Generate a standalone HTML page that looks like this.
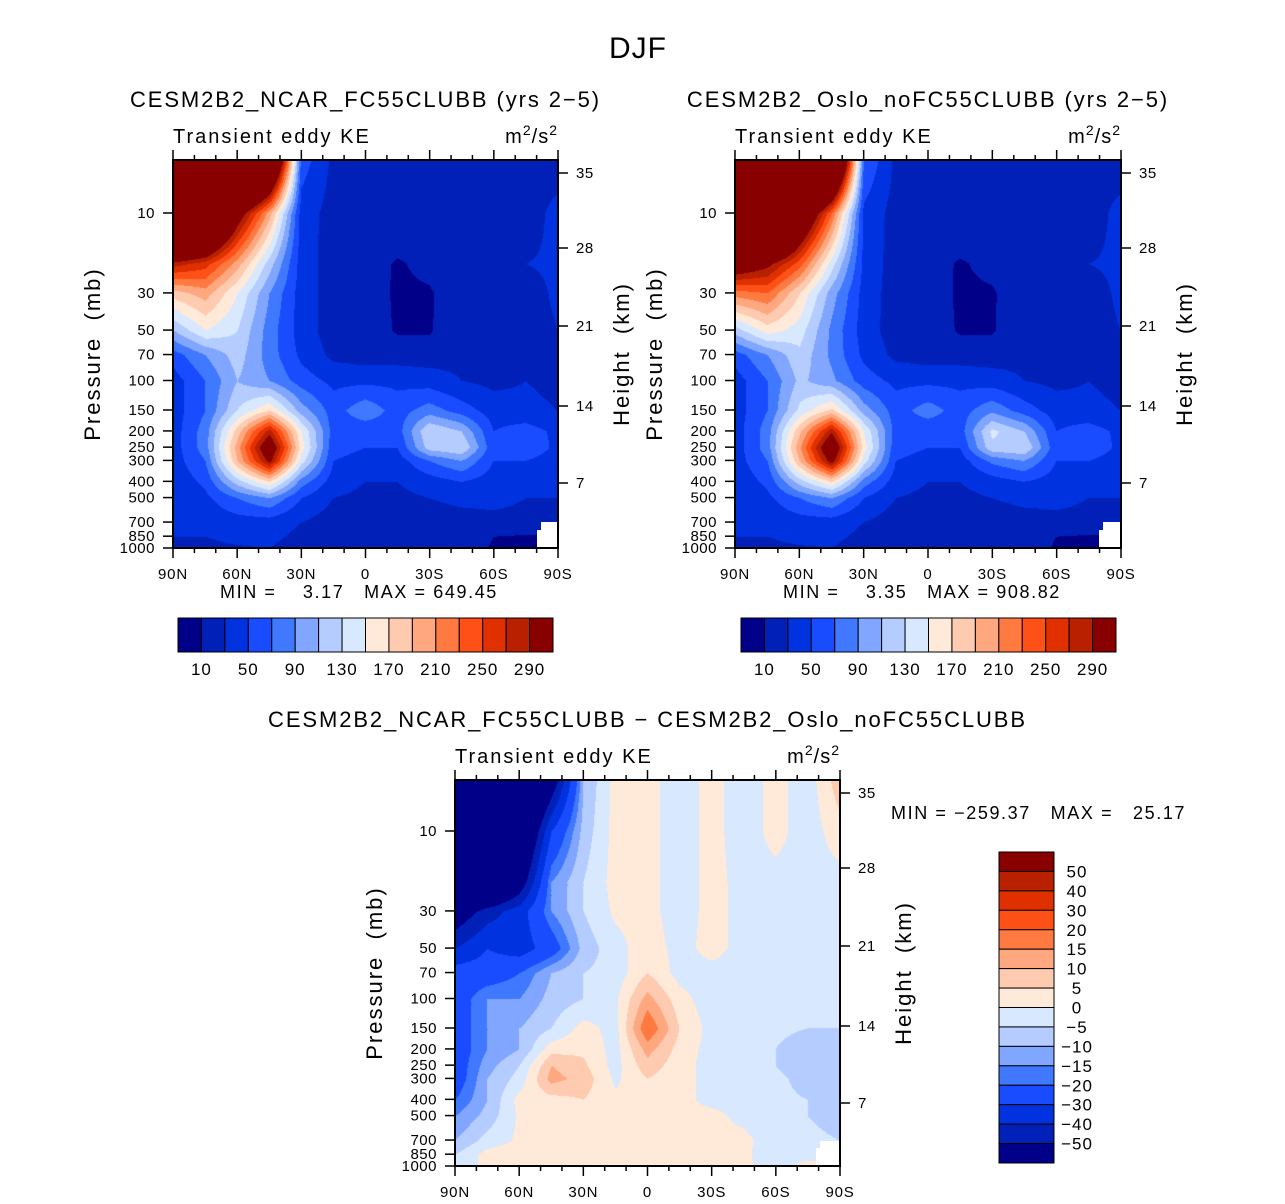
<!DOCTYPE html>
<html><head><meta charset="utf-8"><style>
body{margin:0;background:#fff;width:1285px;height:1204px;position:relative;overflow:hidden;font-family:"Liberation Sans",sans-serif}
canvas{position:absolute}
svg{position:absolute;left:0;top:0}
text{font-family:"Liberation Sans",sans-serif;fill:#000;white-space:pre}
</style></head><body>
<canvas id="c1" width="385" height="388" style="left:173px;top:160px"></canvas>
<canvas id="c2" width="386" height="388" style="left:735px;top:160px"></canvas>
<canvas id="c3" width="385" height="386" style="left:455px;top:780px"></canvas>
<svg id="ov" width="1285" height="1204"></svg>
<script>
const lats=[90,75,60,45,30,15,0,-15,-30,-45,-60,-75,-90];
const pLevels=[5,10,20,30,50,70,100,150,200,250,300,400,500,700,850,1000];
const keLevels=[10,30,50,70,90,110,130,150,170,190,210,230,250,270,290];
const diffLevels=[-50,-40,-30,-20,-15,-10,-5,0,5,10,15,20,30,40,50];
const keTickLabels=["10","50","90","130","170","210","250","290"];
const diffTickLabels=["50","40","30","20","15","10","5","0","\u22125","\u221210","\u221215","\u221220","\u221230","\u221240","\u221250"];
const pressureTicks=[10,30,50,70,100,150,200,250,300,400,500,700,850,1000];
const latTicks=["90N","60N","30N","0","30S","60S","90S"];
const colors=["#000088","#0020b8","#0032e0","#1a4cff","#4078ff","#80a6ff","#b4ccff","#d8e8ff","#ffeada","#ffcbb0","#ffa880","#ff7a40","#ff5018","#e03000","#b82000","#880000"];
const keNcar=[
[600,600,600,450,60,25,22,27,22,28,25,25,22],
[600,500,320,200,40,22,24,26,18,20,28,22,35],
[280,260,200,120,40,20,18,8,15,25,20,30,32],
[180,200,150,90,40,20,20,7,8,22,28,25,32],
[110,150,130,80,40,20,20,8,8,25,28,25,30],
[60,90,120,80,45,25,20,20,20,25,22,25,25],
[40,70,110,90,60,45,45,45,40,30,25,30,25],
[40,70,130,170,100,60,85,60,80,60,40,35,30],
[40,80,180,280,150,60,55,60,130,110,50,60,45],
[40,80,200,330,160,55,50,50,120,130,55,65,45],
[40,70,190,300,140,50,45,40,70,90,50,50,40],
[35,55,120,170,80,40,30,30,40,50,40,35,32],
[30,45,70,90,50,30,25,25,30,35,35,30,30],
[30,35,40,40,30,20,20,20,20,22,25,25,25],
[30,30,35,35,25,18,15,15,18,20,10,8,8],
[30,25,28,30,20,15,10,15,20,20,8,5,5]];
const keOslo=[
[700,700,700,500,70,25,22,27,22,28,25,25,22],
[700,600,380,230,45,22,24,26,18,20,28,22,35],
[330,300,240,140,45,20,18,8,15,25,20,30,32],
[220,230,170,100,42,20,20,7,8,22,28,25,32],
[120,160,140,85,40,20,20,8,8,25,28,25,30],
[60,90,125,85,45,25,20,20,20,25,22,25,25],
[40,70,115,95,60,45,45,45,40,30,25,30,25],
[40,70,135,175,100,60,80,60,85,60,40,35,30],
[40,80,185,285,150,60,55,60,135,110,50,60,45],
[40,80,205,335,160,55,50,50,125,130,55,65,45],
[40,70,190,305,140,50,45,40,75,90,50,50,40],
[35,55,120,170,80,40,30,30,40,50,40,35,32],
[30,45,70,90,50,30,25,25,30,35,35,30,30],
[30,35,40,40,30,20,20,20,20,22,25,25,25],
[30,30,35,35,25,18,15,15,18,20,10,8,8],
[30,25,28,30,20,15,10,15,20,20,8,5,5]];
const keDiff=[
[-100,-100,-100,-60,-10,2,2,-3,2,-3,2,-3,8],
[-100,-100,-80,-30,-8,2,2,-3,2,-3,2,-3,3],
[-100,-90,-60,-15,-5,2,2,-3,2,-2,-2,-2,-2],
[-60,-45,-35,-15,-5,1,2,-3,2,-2,-3,-3,-2],
[-40,-30,-35,-25,-8,-2,3,-2,2,-2,-3,-3,-2],
[-25,-25,-20,-10,-5,-3,5,-2,-2,-2,-2,-2,-3],
[-25,-15,-15,-8,-5,-1,12,2,-3,-3,-3,-3,-3],
[-25,-15,-10,-5,2,-2,20,5,-2,-3,-3,-5,-5],
[-25,-15,-10,3,4,-2,12,3,-2,-3,-5,-10,-8],
[-25,-12,-5,10,6,-2,8,2,-2,-3,-5,-10,-8],
[-25,-10,-3,12,8,-1,5,1,-1,-3,-3,-8,-8],
[-20,-10,2,3,5,1,2,1,-1,-1,-3,-5,-10],
[-15,-8,1,3,3,1,2,1,1,-1,-3,-5,-8],
[-10,-3,1,2,2,1,1,1,1,1,-2,-3,-5],
[-5,2,3,2,2,2,2,2,1,1,-3,-2,-2],
[-5,2,2,2,2,2,2,2,1,1,-2,2,2]];

const logP=pLevels.map(p=>Math.log10(p));
const PXDEC=167.5;
function yOfP(p,bottom){return bottom-(3-Math.log10(p))*PXDEC;}
function interp(grid,fi,lp){
  let i=0; while(i<logP.length-2 && lp>logP[i+1]) i++;
  let t=(lp-logP[i])/(logP[i+1]-logP[i]); t=Math.max(0,Math.min(1,t));
  let j=Math.max(0,Math.min(lats.length-2,Math.floor(fi))); let s=fi-j; s=Math.max(0,Math.min(1,s));
  const a=grid[i][j],b=grid[i][j+1],c=grid[i+1][j],d=grid[i+1][j+1];
  return (a*(1-s)+b*s)*(1-t)+(c*(1-s)+d*s)*t;
}
function hexRgb(h){return [parseInt(h.substr(1,2),16),parseInt(h.substr(3,2),16),parseInt(h.substr(5,2),16)];}
const rgb=colors.map(hexRgb);
function render(id,grid,levels){
  const cv=document.getElementById(id),ctx=cv.getContext('2d');
  const W=cv.width,H=cv.height,img=ctx.createImageData(W,H);
  for(let y=0;y<H;y++){
    const lp=3-(H-y)/PXDEC;
    for(let x=0;x<W;x++){
      const lat=90-180*x/(W-1); const fi=(90-lat)/15;
      const v=interp(grid,fi,lp);
      let k=0; while(k<levels.length && v>=levels[k]) k++;
      const c=rgb[k],o=(y*W+x)*4;
      img.data[o]=c[0];img.data[o+1]=c[1];img.data[o+2]=c[2];img.data[o+3]=255;
    }
  }
  ctx.putImageData(img,0,0);
}
render('c1',keNcar,keLevels);
render('c2',keOslo,keLevels);
render('c3',keDiff,diffLevels);

const NS="http://www.w3.org/2000/svg";
const svg=document.getElementById('ov');
function el(tag,attrs,txt){const e=document.createElementNS(NS,tag);for(const k in attrs)e.setAttribute(k,attrs[k]);if(txt!==undefined)e.textContent=txt;svg.appendChild(e);return e;}
function txt(x,y,s,size,anchor,name,rot,ls){
  const e=el('text',{x:x,y:y,'font-size':size,'text-anchor':anchor||'middle','letter-spacing':ls||0},s);
  if(rot) e.setAttribute('transform','rotate(-90 '+x+' '+y+')');
  
  
  return e;
}
function line(x1,y1,x2,y2,w){const e=el('line',{x1:x1,y1:y1,x2:x2,y2:y2,stroke:'#000','stroke-width':w||1.5});return e;}

const heightTicks=[35,28,21,14,7];
const heightOffsets=[13,88,166,246,323];
function panel(L,T,W,H,title,tname,mm,mmX,mmY){
  const R=L+W,B=T+H;
  txt(L+W/2,T-53,title,22,'middle',tname,false,1.9);
  txt(L,T-17,'Transient eddy KE',20,'start','field-label',false,2);
  const u=txt(R,T-17,'',20,'end','units-label',false,1);
  u.innerHTML='m<tspan font-size="14" dy="-8">2</tspan><tspan dy="8">/s</tspan><tspan font-size="14" dy="-8">2</tspan>';
  const f=el('rect',{x:L,y:T,width:W,height:H,fill:'none',stroke:'#000','stroke-width':2});
  
  for(let d=0;d<=18;d++){
    const x=L+W*d/18, major=d%3===0;
    line(x,T,x,T-(major?10:5));
    line(x,B,x,B+(major?10:5));
    if(major) txt(x,B+31,latTicks[d/3],15,'middle','lat-tick-label',false,0.8);
  }
  pressureTicks.forEach(p=>{const y=yOfP(p,B);line(L,y,L-10,y);txt(L-18,y+5,String(p),15,'end','pressure-tick-label',false,0.5);});
  heightTicks.forEach((h,i)=>{const y=T+heightOffsets[i];line(R,y,R+10,y);txt(R+18,y+5,String(h),15,'start','height-tick-label',false,0.5);});
  txt(L-73,T+H*0.5,'Pressure  (mb)',22,'middle','pressure-axis-title',true,2);
  txt(R+71,T+H*0.5,'Height  (km)',22,'middle','height-axis-title',true,2);
  txt(mmX,mmY,mm,18,'start','min-max-label',false,1.6);
}
txt(638,58,'DJF',30,'middle','figure-title',false,1);
panel(173,160,385,388,'CESM2B2_NCAR_FC55CLUBB (yrs 2\u22125)','ncar-panel-title','MIN =    3.17   MAX = 649.45',220,598);
panel(735,160,386,388,'CESM2B2_Oslo_noFC55CLUBB (yrs 2\u22125)','oslo-panel-title','MIN =    3.35   MAX = 908.82',783,598);
panel(455,780,385,386,'CESM2B2_NCAR_FC55CLUBB \u2212 CESM2B2_Oslo_noFC55CLUBB','diff-panel-title','MIN = \u2212259.37   MAX =   25.17',891,819);
[[541,522,17,26],[537,530,5,18],[1103,522,18,26],[1099,530,5,18],[820,1141,20,25],[816,1148,5,18]].forEach(r=>{
  const e=el('rect',{x:r[0],y:r[1],width:r[2],height:r[3],fill:'#fff'});
  
});
line(558,160,558,548,2);line(1121,160,1121,548,2);line(840,780,840,1166,2);line(455,1166,840,1166,2);line(173,548,558,548,2);line(735,548,1121,548,2);
function hbar(L){
  const w=375/16;
  colors.forEach((c,i)=>{const e=el('rect',{x:L+i*w,y:618,width:w,height:34,fill:c,stroke:'#000','stroke-width':1});
    });
  keTickLabels.forEach((s,i)=>txt(L+(2*i+1)*w,675,s,17,'middle','colorbar-label',false,1));
}
hbar(178);hbar(741);
const vh=311/16;
colors.slice().reverse().forEach((c,i)=>{const e=el('rect',{x:999,y:852+i*vh,width:55,height:vh,fill:c,stroke:'#000','stroke-width':1});
  });
diffTickLabels.forEach((s,i)=>txt(1077,852+(i+1)*vh+6,s,17,'middle','diff-colorbar-label',false,1));
</script>
</body></html>
